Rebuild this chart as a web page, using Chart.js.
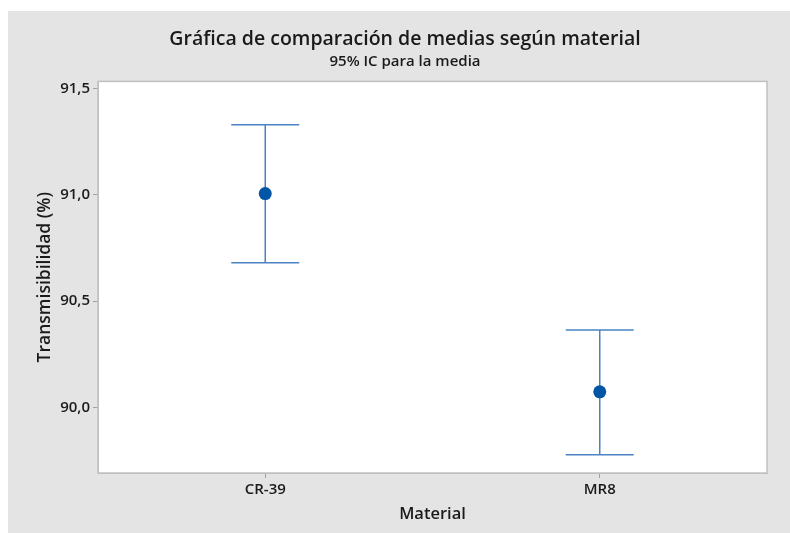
<!DOCTYPE html>
<html>
<head>
<meta charset="utf-8">
<script src="https://cdn.jsdelivr.net/npm/chart.js@4/dist/chart.umd.min.js"></script>
<style>
  body { margin: 0; background: #fff; }
  canvas { display: block; }
</style>
</head>
<body>
<canvas id="chart" width="790" height="533"></canvas>
<script>
const materials = ['CR-39', 'MR8'];
const means = [91.006, 90.073];
const upper = [91.330, 90.364];
const lower = [90.680, 89.777];
const yTicks = [90.0, 90.5, 91.0, 91.5];

const FONT = "'Open Sans', 'Noto Sans', sans-serif";

// gray panel, white plot area and frame
const panel = {
  id: 'panel',
  beforeDraw(chart) {
    const { ctx, chartArea: a } = chart;
    ctx.save();
    ctx.fillStyle = '#ffffff';
    ctx.fillRect(0, 0, chart.width, chart.height);
    ctx.fillStyle = '#e4e4e4';
    ctx.fillRect(8, 11, chart.width - 8, chart.height - 11);
    ctx.fillStyle = '#ffffff';
    ctx.fillRect(a.left, a.top, a.right - a.left, a.bottom - a.top);
    ctx.restore();
  },
  afterDraw(chart) {
    const { ctx, chartArea: a } = chart;
    ctx.save();
    ctx.strokeStyle = '#c0c0c0';
    ctx.lineWidth = 1.5;
    ctx.strokeRect(a.left, a.top, a.right - a.left, a.bottom - a.top);
    ctx.restore();
  }
};

// 95% CI bars drawn through the chart scales
const ciBars = {
  id: 'ciBars',
  beforeDatasetsDraw(chart) {
    const { ctx, scales: { x, y } } = chart;
    ctx.save();
    ctx.strokeStyle = '#4a84c4';
    ctx.lineWidth = 1.5;
    materials.forEach((m, i) => {
      const px = x.getPixelForValue(i);
      const top = y.getPixelForValue(upper[i]);
      const bot = y.getPixelForValue(lower[i]);
      ctx.beginPath();
      ctx.moveTo(px, top);
      ctx.lineTo(px, bot);
      ctx.moveTo(px - 34, top);
      ctx.lineTo(px + 34, top);
      ctx.moveTo(px - 34, bot);
      ctx.lineTo(px + 34, bot);
      ctx.stroke();
    });
    ctx.restore();
  }
};

const fmt = v => Number(v).toFixed(1).replace('.', ',');

new Chart(document.getElementById('chart'), {
  type: 'line',
  data: {
    labels: materials,
    datasets: [{
      data: means,
      showLine: false,
      pointRadius: 6.5,
      pointBackgroundColor: '#0055a5',
      pointBorderWidth: 0
    }]
  },
  options: {
    responsive: false,
    animation: false,
    layout: { padding: { left: 43, right: 23, top: 0, bottom: 0 } },
    plugins: {
      legend: { display: false },
      tooltip: { enabled: false },
      title: {
        display: true,
        text: 'Gráfica de comparación de medias según material',
        color: '#1a1a1a',
        font: { family: FONT, size: 19.5, weight: 600 },
        padding: { top: 28, bottom: 0 }
      },
      subtitle: {
        display: true,
        text: '95% IC para la media',
        color: '#1a1a1a',
        font: { family: FONT, size: 15, weight: 600 },
        padding: { top: 1, bottom: 11 }
      }
    },
    scales: {
      x: {
        type: 'category',
        offset: true,
        grid: { drawOnChartArea: false, offset: false, tickLength: 5, color: '#a0a0a0' },
        border: { display: true, color: '#c0c0c0' },
        ticks: { color: '#1a1a1a', font: { family: FONT, size: 15, weight: 600 }, padding: 3 },
        title: {
          display: true,
          text: 'Material',
          color: '#1a1a1a',
          font: { family: FONT, size: 16.5, weight: 600 },
          padding: { top: 0, bottom: 9 }
        },
        afterFit(scale) { scale.height = 60; }
      },
      y: {
        min: 89.691,
        max: 91.534,
        afterBuildTicks(scale) { scale.ticks = yTicks.map(v => ({ value: v })); },
        grid: { drawOnChartArea: false, tickLength: 5, color: '#a0a0a0' },
        border: { display: true, color: '#c0c0c0' },
        ticks: { color: '#1a1a1a', font: { family: FONT, size: 15, weight: 600 }, padding: 3, callback: v => fmt(v) },
        title: {
          display: true,
          text: 'Transmisibilidad (%)',
          color: '#1a1a1a',
          font: { family: FONT, size: 17.5, weight: 600 },
          padding: { top: -8, bottom: 0 }
        },
        afterFit(scale) { scale.width = 55; }
      }
    }
  },
  plugins: [panel, ciBars]
});
</script>
</body>
</html>
